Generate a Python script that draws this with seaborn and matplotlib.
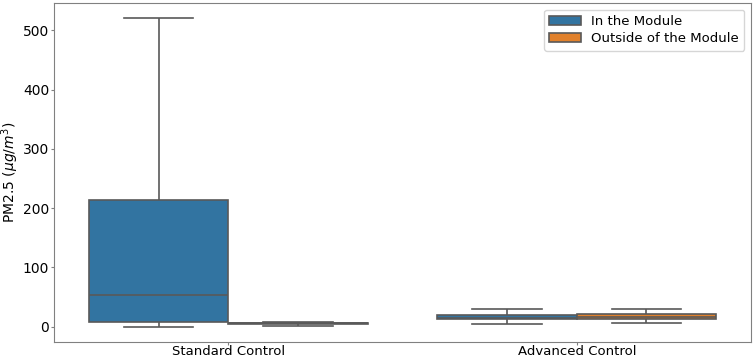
import numpy as np
import pandas as pd
import seaborn as sns
from matplotlib import pyplot as plt

# five values per group: min, q1, median, q3, max
std_in = [0, 8, 53, 213, 520]
std_out = [1.2, 4, 5.5, 6.5, 8.4]
adv_in = [4, 12.4, 15, 20.2, 29.7]
adv_out = [6.7, 13.4, 17, 21.8, 30.3]

categories = ['Standard Control', 'Advanced Control']
locations = ['In the Module', 'Outside of the Module']

rows = []
for cat, loc, vals in [(categories[0], locations[0], std_in),
                       (categories[0], locations[1], std_out),
                       (categories[1], locations[0], adv_in),
                       (categories[1], locations[1], adv_out)]:
    for v in vals:
        rows.append({'control': cat, 'where': loc, 'pm': v})
data = pd.DataFrame(rows)

fig = plt.figure(figsize=(7.54, 3.59), dpi=100)
ax = fig.add_axes([54 / 754, 17 / 359, 697 / 754, 339 / 359])

sns.boxplot(data=data, x='control', y='pm', hue='where', order=categories,
            hue_order=locations, whis=(0, 100), saturation=0.75, gap=0,
            linecolor='0.35', linewidth=1.2, ax=ax)

for s in ax.spines.values():
    s.set_color('0.5')
ax.set_xlabel('')
ax.set_ylabel(r'PM2.5 ($\mu g/m^3$)', fontsize=10, labelpad=1)
ax.tick_params(labelsize=10, length=2, pad=1.5, color='0.5')
ax.tick_params(axis='x', labelsize=9.5, pad=0.5)
ax.legend(loc='upper right', fontsize=9.5, handlelength=2.4, borderpad=0.4,
          labelspacing=0.35)

fig.savefig('out.png', dpi=100)
